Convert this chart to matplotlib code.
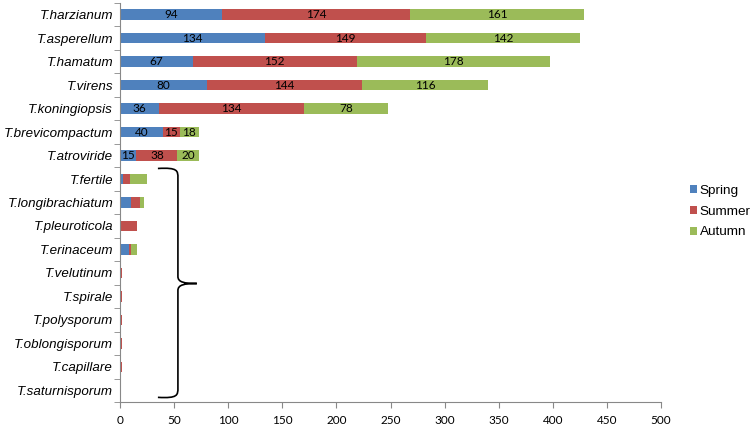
import matplotlib
matplotlib.use("Agg")
import matplotlib.pyplot as plt
from matplotlib.path import Path
from matplotlib.patches import PathPatch

plt.rcParams["font.family"] = ["Liberation Sans", "DejaVu Sans"]

species = [
    "T.harzianum", "T.asperellum", "T.hamatum", "T.virens", "T.koningiopsis",
    "T.brevicompactum", "T.atroviride", "T.fertile", "T.longibrachiatum",
    "T.pleuroticola", "T.erinaceum", "T.velutinum", "T.spirale",
    "T.polysporum", "T.oblongisporum", "T.capillare", "T.saturnisporum",
]
spring = [94, 134, 67, 80, 36, 40, 15, 3, 10, 0, 8, 0, 1, 1, 0, 0, 0]
summer = [174, 149, 152, 144, 134, 15, 38, 6, 8, 16, 2, 2, 1, 1, 2, 2, 1]
autumn = [161, 142, 178, 116, 78, 18, 20, 16, 4, 0, 6, 0, 0, 0, 0, 0, 0]
n_labeled = 7  # only the major species carry value labels

colors = {"Spring": "#4F81BD", "Summer": "#C0504D", "Autumn": "#9BBB59"}

fig = plt.figure(figsize=(7.53, 4.25), dpi=100)
ax = fig.add_axes([0.1594, 0.054, 0.7185, 0.939])

y = list(range(len(species)))
left = [0] * len(species)
bars = []
for name, vals in [("Spring", spring), ("Summer", summer), ("Autumn", autumn)]:
    b = ax.barh(y, vals, left=left, height=0.45, color=colors[name], label=name)
    bars.append(b)
    for i, v in enumerate(vals):
        if i < n_labeled:
            ax.text(left[i] + v / 2, i, str(v), ha="center", va="center",
                    fontsize=8.5, family=["Lato", "DejaVu Sans"], color="black")
    left = [a + v for a, v in zip(left, vals)]

ax.set_ylim(len(species) - 0.5, -0.5)
ax.set_xlim(0, 500)
ax.set_xticks(range(0, 501, 50))
for lab in ax.get_xticklabels():
    lab.set_family(["Lato", "DejaVu Sans"])
ax.set_yticks(y)
ax.set_yticklabels(species, fontstyle="italic", fontsize=9.6)
ax.set_yticks([i + 0.5 for i in range(-1, len(species))], minor=True)
ax.tick_params(axis="y", which="major", length=0, pad=5)
ax.tick_params(axis="y", which="minor", length=4, color="#888888")
ax.tick_params(axis="x", length=4, color="#888888", labelsize=8.5, pad=5)

for s in ["top", "right"]:
    ax.spines[s].set_visible(False)
for s in ["left", "bottom"]:
    ax.spines[s].set_color("#888888")

# curly bracket grouping the minor species
x0, xv, xt = 35, 53.5, 71
yt, ym, yb = 6.55, 11.45, 16.3
verts = [
    (x0, yt), (xv, yt - 0.05), (xv, yt + 0.1), (xv, yt + 0.4),
    (xv, ym - 0.3),
    (xv, ym - 0.05), (xv + 6, ym), (xt, ym),
    (xv + 6, ym), (xv, ym + 0.05), (xv, ym + 0.3),
    (xv, yb - 0.4),
    (xv, yb - 0.1), (xv, yb + 0.05), (x0, yb),
]
codes = [Path.MOVETO, Path.CURVE4, Path.CURVE4, Path.CURVE4,
         Path.LINETO,
         Path.CURVE4, Path.CURVE4, Path.CURVE4,
         Path.CURVE4, Path.CURVE4, Path.CURVE4,
         Path.LINETO,
         Path.CURVE4, Path.CURVE4, Path.CURVE4]
ax.add_patch(PathPatch(Path(verts, codes), fill=False, lw=1.2,
                       edgecolor="black", clip_on=False))

fig.legend(handles=bars, loc="center left", bbox_to_anchor=(0.916, 0.502),
           frameon=False, fontsize=9.7, handlelength=0.55, handleheight=0.55,
           handletextpad=0.2, labelspacing=0.65, borderpad=0, borderaxespad=0)

fig.savefig("out.png", dpi=100)
